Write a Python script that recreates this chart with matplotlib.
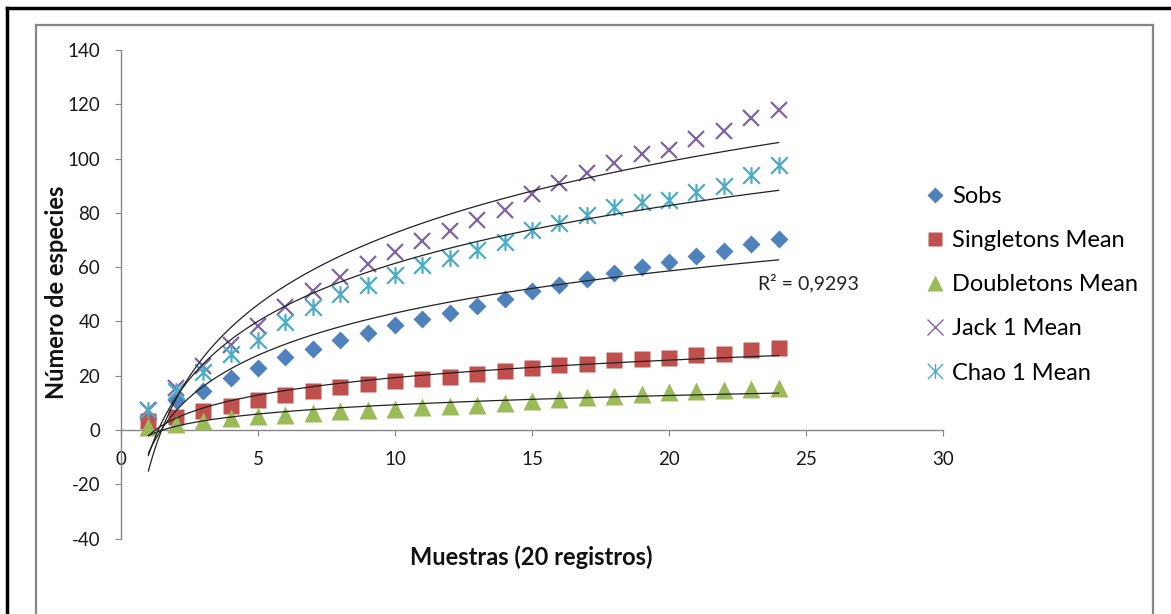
import numpy as np
import matplotlib
matplotlib.use("Agg")
import matplotlib.pyplot as plt
from matplotlib.path import Path
from matplotlib.lines import Line2D

plt.rcParams['font.family'] = ['Lato', 'DejaVu Sans']
plt.rcParams['axes.unicode_minus'] = False

# Accumulation curves (mean values per number of samples)
samples = np.arange(1, 25)
sobs = [4.2, 11.2, 14.3, 19.1, 23.0, 26.8, 29.8, 33.2, 35.9, 38.6, 41.0, 43.2,
        45.6, 48.1, 51.1, 53.5, 55.6, 58.0, 60.2, 62.0, 64.0, 66.0, 68.5, 70.2]
singletons = [3.4, 4.9, 7.0, 9.0, 10.9, 12.9, 14.4, 15.8, 16.8, 18.0, 18.9, 19.7,
              20.6, 21.8, 22.9, 24.0, 24.5, 25.7, 26.3, 26.5, 27.5, 28.0, 29.3, 30.1]
doubletons = [1.0, 2.3, 3.3, 4.3, 5.1, 5.7, 6.2, 6.9, 7.5, 7.8, 8.4, 8.8,
              9.4, 10.0, 10.8, 11.6, 12.2, 12.7, 13.3, 14.0, 14.4, 14.7, 15.1, 15.5]
jack1 = [7.4, 15.5, 23.5, 31.5, 38.5, 45.2, 51.2, 56.4, 61.3, 65.6, 69.7, 73.4,
         77.3, 81.1, 87.1, 90.9, 94.6, 98.2, 101.7, 103.3, 107.2, 110.3, 114.9, 118.0]
chao1 = [7.4, 14.4, 21.3, 28.0, 33.2, 39.7, 45.2, 50.0, 53.5, 57.0, 60.7, 63.5,
         66.4, 69.1, 73.6, 76.4, 79.2, 82.0, 83.9, 84.7, 87.8, 90.0, 94.0, 97.6]
r2_text = "R² = 0,9293"

labels = ["Sobs", "Singletons Mean", "Doubletons Mean", "Jack 1 Mean", "Chao 1 Mean"]
colors = ["#4F81BD", "#C0504D", "#9BBB59", "#8064A2", "#4BACC6"]

# Excel-style asterisk: an X with a vertical bar
star = Path([(0, -1), (0, 1), (-1, -1), (1, 1), (-1, 1), (1, -1)],
            [Path.MOVETO, Path.LINETO, Path.MOVETO, Path.LINETO, Path.MOVETO, Path.LINETO])

fig = plt.figure(figsize=(11.71, 6.14), dpi=100)
ax = fig.add_axes([121 / 1171, 1 - 538.6 / 614, 822 / 1171, 488.6 / 614])

styles = [
    dict(marker='D', ms=9.2, mec='none'),
    dict(marker='s', ms=12, mec='none'),
    dict(marker='^', ms=13, mec='none'),
    dict(marker='x', ms=12, mew=1.6),
    dict(marker=star, ms=12, mew=1.6),
]
series = [sobs, singletons, doubletons, jack1, chao1]

for vals, lab, col, st in zip(series, labels, colors, styles):
    ax.plot(samples, vals, ls='none', color=col, label=lab, zorder=3, **st)

# Logarithmic trendlines fitted to each series
xs = np.linspace(1, 24, 300)
for vals in series:
    a, b = np.polyfit(np.log(samples), np.asarray(vals), 1)
    ax.plot(xs, a * np.log(xs) + b, color='#222222', lw=0.9, zorder=4)

ax.text(25.1, 54.2, r2_text, ha='center', va='center', fontsize=14, color='#222222')

ax.set_xlim(0, 30)
ax.set_ylim(-40, 140)
ax.set_xticks(np.arange(0, 31, 5))
ax.set_yticks(np.arange(-40, 141, 20))

for s in ['top', 'right']:
    ax.spines[s].set_visible(False)
ax.spines['bottom'].set_position(('data', 0))
ax.spines['left'].set_color('#868686')
ax.spines['bottom'].set_color('#868686')
ax.spines['left'].set_linewidth(1.0)
ax.spines['bottom'].set_linewidth(1.0)
ax.tick_params(axis='both', direction='out', length=4, width=0.8, color='#868686',
               labelsize=13.5, labelcolor='#1a1a1a')
ax.tick_params(axis='x', pad=11)
ax.tick_params(axis='y', pad=11)
ax.patch.set_visible(False)

fig.text(57 / 1171, 1 - 292 / 614, "Número de especies", rotation=90, ha='center',
         va='center', fontsize=17, fontweight='bold', color='#111111')
fig.text(531 / 1171, 1 - 557 / 614, "Muestras (20 registros)", ha='center',
         va='center', fontsize=17, fontweight='bold', color='#111111')

leg_handles = []
for col, st in zip(colors, styles):
    kw = dict(st)
    if kw['marker'] == 'x' or kw['marker'] is star:
        kw['mew'] = 1.0
        kw['ms'] = 11
    else:
        kw['ms'] = kw['ms'] * 0.85
    leg_handles.append(Line2D([], [], ls='none', color=col, **kw))
fig.legend(leg_handles, labels, loc='upper left', bbox_to_anchor=(926 / 1171, 1 - 186 / 614),
           frameon=False, fontsize=17, handlelength=0.8, handletextpad=0.3,
           labelspacing=0.98, borderaxespad=0, borderpad=0)

# Outer frame (black) and chart-area frame (grey)
fig.add_artist(Line2D([6.5 / 1171, 1], [1 - 7.5 / 614] * 2, color='black', lw=2.5))
fig.add_artist(Line2D([6.5 / 1171] * 2, [0, 1 - 7.5 / 614], color='black', lw=2.5))
gx0, gx1, gy = 35.5 / 1171, 1153 / 1171, 1 - 25 / 614
fig.add_artist(Line2D([gx0, gx1], [gy, gy], color='#868686', lw=1.6))
fig.add_artist(Line2D([gx0, gx0], [0, gy], color='#868686', lw=1.6))
fig.add_artist(Line2D([gx1, gx1], [0, gy], color='#868686', lw=1.6))

fig.savefig("out.png", dpi=100)
